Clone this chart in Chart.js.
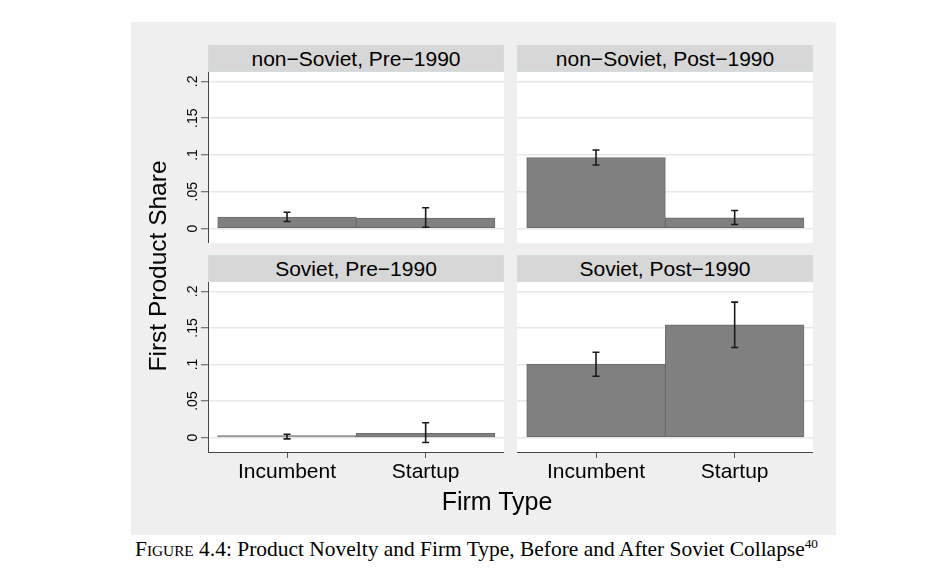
<!DOCTYPE html>
<html lang="en">
  <head>
    <meta charset="UTF-8" />
    <meta name="viewport" content="width=device-width, initial-scale=1.0" />
    <title>Product Novelty and Firm Type</title>
    <style>
      body {
        margin: 0;
        width: 936px;
        height: 582px;
        position: relative;
        overflow: hidden;
        background: #fff;
        font-family: "Liberation Sans", Arial, sans-serif;
        color: #000;
      }
      .fondo {
        position: absolute;
        left: 131px;
        top: 22px;
        width: 705px;
        height: 513px;
        background: #efefef;
      }
      .tira {
        position: absolute;
        width: 296px;
        height: 27px;
        box-sizing: border-box;
        background: #d7d7d7;
        border: 1px solid #d2dce1;
        text-align: center;
        font-size: 21px;
        line-height: 25px;
        white-space: nowrap;
      }
      canvas {
        position: absolute;
      }
      #tituloY {
        position: absolute;
        left: 8px;
        top: 251px;
        width: 300px;
        height: 30px;
        line-height: 30px;
        text-align: center;
        font-size: 24.5px;
        transform: rotate(-90deg);
        white-space: nowrap;
      }
      #tituloX {
        position: absolute;
        left: 347px;
        top: 489px;
        width: 300px;
        text-align: center;
        font-size: 25px;
        line-height: 25px;
      }
      #pie {
        position: absolute;
        left: 135px;
        top: 538px;
        font-family: "Liberation Serif", "DejaVu Serif", serif;
        font-size: 21px;
        line-height: 22px;
        white-space: nowrap;
        transform-origin: left center;
      }
      #pie .sc {
        font-variant: small-caps;
      }
      #pie sup {
        font-size: 13px;
        line-height: 0;
      }
    </style>
  </head>
  <body>
    <div class="fondo"></div>

    <div class="tira" id="t0" style="left: 208px; top: 45px"></div>
    <div class="tira" id="t1" style="left: 517px; top: 45px"></div>
    <div class="tira" id="t2" style="left: 208px; top: 255px"></div>
    <div class="tira" id="t3" style="left: 517px; top: 255px"></div>

    <canvas id="panel0" width="344" height="171" style="left: 160px; top: 72px"></canvas>
    <canvas id="panel1" width="296" height="171" style="left: 517px; top: 72px"></canvas>
    <canvas id="panel2" width="344" height="210" style="left: 160px; top: 282px"></canvas>
    <canvas id="panel3" width="296" height="210" style="left: 517px; top: 282px"></canvas>

    <div id="tituloY">First Product Share</div>
    <div id="tituloX">Firm Type</div>
    <div id="pie">
      <span class="sc">Figure</span> 4.4: Product Novelty and Firm Type, Before and After Soviet Collapse<sup>40</sup>
    </div>

    <script src="https://cdn.jsdelivr.net/npm/chart.js"></script>

    <script>
      // datos
      const tiposEmpresa = ["Incumbent", "Startup"];
      const titulosPanel = [
        "non\u2212Soviet, Pre\u22121990",
        "non\u2212Soviet, Post\u22121990",
        "Soviet, Pre\u22121990",
        "Soviet, Post\u22121990",
      ];
      const marcasY = [0, 0.05, 0.1, 0.15, 0.2];
      const etiquetasY = ["0", ".05", ".1", ".15", ".2"];

      const noSovieticoAntes = [0.0154, 0.0142];
      const noSovieticoAntesBajo = [0.0095, 0.0018];
      const noSovieticoAntesAlto = [0.0222, 0.0282];

      const noSovieticoDespues = [0.0964, 0.0146];
      const noSovieticoDespuesBajo = [0.0863, 0.0055];
      const noSovieticoDespuesAlto = [0.1068, 0.0245];

      const sovieticoAntes = [0.0005, 0.006];
      const sovieticoAntesBajo = [-0.0018, -0.0068];
      const sovieticoAntesAlto = [0.0046, 0.0204];

      const sovieticoDespues = [0.1004, 0.1542];
      const sovieticoDespuesBajo = [0.084, 0.1233];
      const sovieticoDespuesAlto = [0.1168, 0.1853];

      const fuente = "'Liberation Sans', Arial, sans-serif";
      const posiciones = tiposEmpresa.map((t, i) => i + 1);

      titulosPanel.forEach((t, i) => {
        document.querySelector("#t" + i).textContent = t;
      });

      // fondo blanco del area y barras de error
      const areaBlanca = {
        id: "areaBlanca",
        beforeDraw(chart) {
          const { ctx, chartArea } = chart;
          ctx.save();
          ctx.fillStyle = "#fff";
          ctx.fillRect(chartArea.left, chartArea.top, chartArea.width, chartArea.height);
          ctx.restore();
        },
      };

      const barrasError = {
        id: "barrasError",
        afterDatasetsDraw(chart, args, opts) {
          const { ctx } = chart;
          const x = chart.scales.x;
          const y = chart.scales.y;
          ctx.save();
          ctx.strokeStyle = "#1a1a1a";
          ctx.lineWidth = 1.6;
          opts.bajos.forEach((b, i) => {
            const px = x.getPixelForValue(posiciones[i]);
            const y1 = y.getPixelForValue(b);
            const y2 = y.getPixelForValue(opts.altos[i]);
            ctx.beginPath();
            ctx.moveTo(px, y1);
            ctx.lineTo(px, y2);
            ctx.moveTo(px - 3.5, y1);
            ctx.lineTo(px + 3.5, y1);
            ctx.moveTo(px - 3.5, y2);
            ctx.lineTo(px + 3.5, y2);
            ctx.stroke();
          });
          ctx.restore();
        },
      };

      function crearPanel(id, valores, bajos, altos, izquierda, abajo) {
        return new Chart(document.querySelector(id), {
          type: "bar",
          data: {
            datasets: [
              {
                data: valores.map((v, i) => ({ x: posiciones[i], y: v })),
                backgroundColor: "#808080",
                borderColor: "#6b6b6b",
                borderWidth: 1,
                borderSkipped: false,
                minBarLength: 2,
                barPercentage: 1,
                categoryPercentage: 1,
              },
            ],
          },
          options: {
            responsive: false,
            animation: false,
            layout: { padding: 0 },
            plugins: {
              legend: { display: false },
              tooltip: { enabled: false },
              barrasError: { bajos: bajos, altos: altos },
            },
            scales: {
              x: {
                type: "linear",
                offset: false,
                min: 0.43,
                max: 2.565,
                afterBuildTicks: (s) => {
                  s.ticks = posiciones.map((v) => ({ value: v }));
                },
                afterFit: (s) => {
                  s.height = abajo ? 40 : 0;
                  s.paddingLeft = 0;
                  s.paddingRight = 0;
                },
                ticks: {
                  display: abajo,
                  autoSkip: false,
                  maxRotation: 0,
                  padding: 2,
                  color: "#000",
                  font: { family: fuente, size: 21 },
                  callback: (v, i) => tiposEmpresa[i],
                },
                grid: {
                  display: abajo,
                  offset: false,
                  drawOnChartArea: false,
                  tickLength: 6,
                  tickColor: "#555",
                  tickWidth: 1,
                },
                border: { display: abajo, color: "#444", width: 1 },
              },
              y: {
                min: -0.0197,
                max: 0.2128,
                afterBuildTicks: (s) => {
                  s.ticks = marcasY.map((v) => ({ value: v }));
                },
                afterFit: (s) => {
                  s.width = izquierda ? 48 : 0;
                  s.paddingTop = 0;
                  s.paddingBottom = 0;
                },
                ticks: {
                  display: izquierda,
                  minRotation: 90,
                  maxRotation: 90,
                  crossAlign: "center",
                  padding: -2,
                  color: "#000",
                  font: { family: fuente, size: 14 },
                  callback: (v, i) => etiquetasY[i],
                },
                grid: {
                  color: "#e8e8e8",
                  lineWidth: 1.5,
                  drawTicks: izquierda,
                  tickLength: 7,
                  tickColor: "#555",
                  tickWidth: 1,
                },
                border: { display: izquierda, color: "#444", width: 1 },
              },
            },
          },
          plugins: [areaBlanca, barrasError],
        });
      }

      crearPanel("#panel0", noSovieticoAntes, noSovieticoAntesBajo, noSovieticoAntesAlto, true, false);
      crearPanel("#panel1", noSovieticoDespues, noSovieticoDespuesBajo, noSovieticoDespuesAlto, false, false);
      crearPanel("#panel2", sovieticoAntes, sovieticoAntesBajo, sovieticoAntesAlto, true, true);
      crearPanel("#panel3", sovieticoDespues, sovieticoDespuesBajo, sovieticoDespuesAlto, false, true);

      // ajustar el ancho del pie al original
      const pie = document.querySelector("#pie");
      pie.style.transform = "scaleX(" + 683 / pie.getBoundingClientRect().width + ")";
    </script>
  </body>
</html>
